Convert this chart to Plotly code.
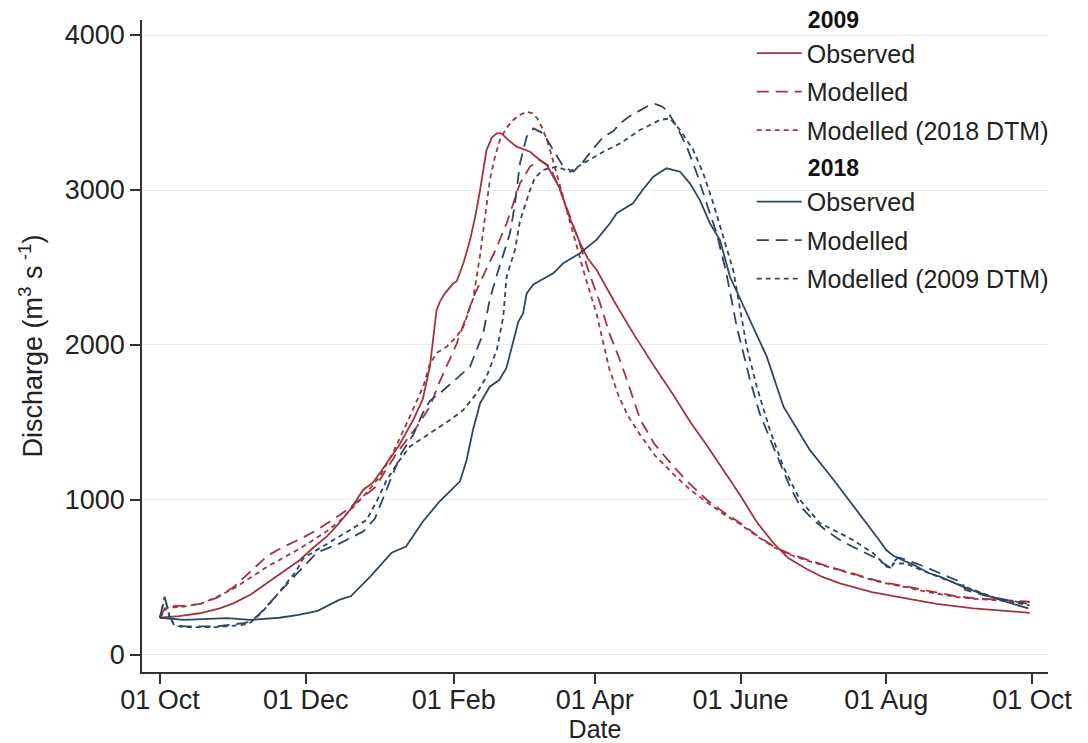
import pandas as pd
import plotly.graph_objects as go

BASE_DATE = "2017-10-01"

# ---- data: (day offset from 01 Oct, discharge m3/s) ----
obs09_day = [0, 8, 16.7, 25, 30.7, 38, 44.7, 52, 58.6, 64, 69.8, 75, 79.5, 82.3, 85, 89, 92, 100, 106, 110,
             113, 115.8, 117.2, 119.3, 122.8, 124.2, 127, 129.8, 132, 134, 136.7, 139, 141, 143, 146, 149.3,
             154.9, 159, 162, 164.6, 167.4, 171, 175.8, 179, 182.8, 189.8, 198.1, 206.5, 214.9, 222, 228.8,
             235.8, 242.8, 249.8, 256.7, 263, 270.7, 277, 284.6, 298, 310, 325, 340.5, 352, 364]
obs09_val = [240, 250, 269, 300, 333, 390, 462, 540, 613, 690, 763, 850, 935, 1000, 1065, 1110, 1172, 1350, 1516, 1650,
             1860, 2226, 2280, 2333, 2398, 2410, 2527, 2677, 2830, 3000, 3258, 3340, 3366, 3366, 3320, 3280,
             3247, 3194, 3160, 3086, 3010, 2840, 2660, 2560, 2484, 2290, 2075, 1871, 1677, 1503, 1355,
             1194, 1032, 858, 723, 625, 555, 505, 462, 405, 372, 330, 301, 285, 272]

mod09_day = [0, 2, 5, 10, 17, 24, 31, 38, 45, 52, 59, 65, 70, 75, 80, 90, 99, 107.5, 113, 117, 124, 131, 136,
             140.5, 145.1, 150.7, 154.9, 159, 163.2, 167.4, 171.6, 176, 180, 184, 188, 192.6, 196, 201, 207, 215,
             222, 229, 236, 243, 250, 257, 264, 271, 278, 285, 292, 299, 306, 312.5, 320, 326.5, 333, 340.5,
             348, 356, 364]
mod09_val = [240, 300, 315, 318, 330, 370, 440, 540, 640, 700, 750, 800, 850, 900, 957, 1080, 1300, 1473, 1602,
             1760, 2000, 2300, 2470, 2613, 2785, 3043, 3151, 3194, 3151, 3000, 2830, 2640, 2450, 2280, 2080,
             1900, 1750, 1520, 1360, 1215, 1100, 1000, 920, 850, 770, 699, 650, 613, 580, 548, 515, 484, 460,
             441, 415, 398, 380, 366, 360, 352, 344]

mod09dtm_day = [0, 3, 10, 17, 24, 31, 38, 45, 52, 59, 65, 70, 75, 80, 85, 92, 98, 103.3, 110.2, 113, 116, 120,
                124, 127, 131.1, 134, 136, 138.1, 140, 142.3, 145, 147.9, 150, 153.5, 156, 158, 160, 162, 164,
                166, 170, 174, 178, 182.8, 188, 192, 196, 201, 207, 215, 222, 229, 236, 243, 250, 257, 264, 271,
                278, 285, 292, 299, 306, 312.5, 320, 326.5, 333, 340.5, 348, 356, 364]
mod09dtm_val = [240, 305, 312, 330, 375, 430, 500, 570, 630, 690, 750, 800, 860, 940, 1020, 1150, 1320, 1495,
                1731, 1880, 1950, 1989, 2050, 2118, 2300, 2580, 2800, 3065, 3200, 3323, 3400, 3452, 3480, 3505,
                3495, 3460, 3400, 3323, 3220, 3108, 2880, 2660, 2440, 2200, 1850, 1670, 1540, 1420, 1290, 1165,
                1065, 985, 908, 843, 765, 695, 645, 608, 575, 543, 510, 480, 455, 437, 410, 393, 375, 362, 356,
                348, 340]

obs18_day = [0, 10, 28, 38, 50, 58, 66, 75, 80, 88, 97, 103, 110, 117, 125.6, 128.4, 131, 134, 138, 142, 145,
             147, 150, 152, 153.5, 156.3, 161.9, 164.6, 168.8, 175.8, 182.8, 188.4, 191.2, 198, 202, 206.5, 212,
             217.7, 221.8, 226, 230.2, 234.4, 238.6, 247, 254, 261, 272, 282, 291.6, 297, 301, 304, 307, 312.5,
             315, 322, 326.5, 337.7, 351.6, 363.5]
obs18_val = [240, 226, 237, 226, 240, 258, 285, 355, 380, 505, 660, 699, 860, 990, 1120, 1260, 1450, 1624, 1731,
             1774, 1850, 1968, 2150, 2204, 2333, 2390, 2441, 2462, 2527, 2592, 2680, 2785, 2850, 2914, 3000, 3086,
             3140, 3118, 3043, 2935, 2785, 2677, 2440, 2161, 1925, 1602, 1323, 1129, 935, 828, 742, 677, 640, 600,
             585, 527, 505, 430, 355, 300]

mod18_day = [0, 2, 4, 6, 10, 24, 35, 38, 42, 47, 52, 57, 62, 65.6, 75.3, 85, 90, 93.5, 97, 101, 106, 110, 113,
             118, 124, 129.8, 135.3, 138, 141, 144.4, 146.5, 148.5, 150.7, 153.5, 156.3, 160.4, 164.6, 168.8, 173,
             177.2, 181, 185.6, 189.8, 192.6, 196, 200.9, 204, 207.2, 210, 212.1, 216.3, 220.5, 224.7, 228.8,
             233, 237, 241.4, 247, 251, 256.7, 263.7, 268, 273.5, 279, 284.6, 291, 298.6, 303, 305.6, 307, 309,
             312.5, 320, 326.5, 332, 336, 337, 345, 354.4, 363.5]
mod18_val = [240, 376, 250, 195, 185, 185, 205, 215, 270, 355, 440, 520, 600, 660, 720, 796, 880, 1021, 1150,
             1300, 1420, 1560, 1640, 1700, 1780, 1860, 2075, 2290, 2450, 2613, 2720, 2900, 3172, 3344, 3398, 3366,
             3258, 3151, 3118, 3183, 3260, 3344, 3380, 3430, 3470, 3516, 3540, 3555, 3540, 3516, 3409, 3280, 3108,
             2914, 2721, 2470, 2120, 1774, 1560, 1344, 1086, 960, 871, 800, 742, 690, 634, 590, 565, 600, 628,
             613, 570, 527, 490, 465, 420, 385, 355, 330]

mod18dtm_day = [0, 2, 4, 6, 10, 24, 35, 38, 42, 47, 52, 57, 60, 67, 74, 80, 86.5, 91, 94.9, 100, 104.6, 113,
                121.4, 127, 132.6, 136.7, 141, 143.7, 145.1, 148.6, 150.7, 154.9, 157, 160.4, 166, 171.6, 177.2,
                185.6, 192.6, 200.9, 209.3, 213.5, 217.7, 223.2, 227.4, 231.6, 235.8, 240, 245.6, 249.8, 255.3,
                260.9, 267.9, 276.3, 287.4, 290, 298.6, 304.2, 306, 307, 312, 322, 337, 351, 364]
mod18dtm_val = [240, 370, 250, 190, 180, 180, 195, 210, 265, 350, 445, 540, 624, 690, 753, 810, 871, 1000, 1129,
                1250, 1344, 1430, 1516, 1581, 1688, 1796, 1968, 2183, 2441, 2613, 2800, 3000, 3080, 3129, 3151,
                3118, 3172, 3247, 3301, 3387, 3452, 3462, 3387, 3258, 3108, 2914, 2699, 2480, 1989, 1731, 1452,
                1215, 1000, 850, 763, 742, 656, 570, 560, 590, 590, 527, 440, 360, 320]

tick_days = [0, 61, 123, 182, 243, 304, 365]
tick_text = ["01 Oct", "01 Dec", "01 Feb", "01 Apr", "01 June", "01 Aug", "01 Oct"]

RED = "#a3343f"
BLUE = "#2f4660"
FONT = "Liberation Sans, Arial, sans-serif"
INDENT = "\u00a0" * 8


def to_dates(days):
    return pd.Timestamp(BASE_DATE) + pd.to_timedelta(days, unit="D")


series = [
    (obs09_day, obs09_val, RED, "solid", "Observed", "g1", "2009"),
    (mod09_day, mod09_val, RED, "12px,7px", "Modelled", "g2", None),
    (mod09dtm_day, mod09dtm_val, RED, "5px,4px", "Modelled (2018 DTM)", "g3", None),
    (obs18_day, obs18_val, BLUE, "solid", "Observed", "g4", "2018"),
    (mod18_day, mod18_val, BLUE, "12px,7px", "Modelled", "g5", None),
    (mod18dtm_day, mod18dtm_val, BLUE, "5px,4px", "Modelled (2009 DTM)", "g6", None),
]

fig = go.Figure()
for days, vals, col, dash, name, grp, gtitle in series:
    kw = {}
    if gtitle:
        kw["legendgrouptitle"] = dict(text="<b>" + INDENT + gtitle + "</b>",
                                      font=dict(size=23, color="#111", family=FONT))
    fig.add_trace(go.Scatter(
        x=to_dates(days), y=vals, mode="lines", name=name, legendgroup=grp,
        line=dict(color=col, width=1.8, dash=dash), **kw))

x0 = pd.Timestamp(BASE_DATE) + pd.to_timedelta(-7.5, unit="D")
x1 = pd.Timestamp(BASE_DATE) + pd.to_timedelta(371.7, unit="D")

# page body has an 8px margin, so the figure is sized to fit inside the window
fig.update_layout(
    width=1080, height=735,
    margin=dict(l=134, r=40, t=12, b=71, autoexpand=False),
    paper_bgcolor="white", plot_bgcolor="white",
    font=dict(family=FONT, size=25, color="#222"),
    showlegend=True,
    legend=dict(x=0.673, y=1.0345, xanchor="left", yanchor="top",
                bgcolor="rgba(0,0,0,0)", font=dict(size=25, color="#222", family=FONT),
                grouptitlefont=dict(size=23, color="#111", family=FONT),
                itemwidth=45, tracegroupgap=3, traceorder="grouped"),
    xaxis=dict(range=[x0, x1], tickmode="array", tickvals=to_dates(tick_days), ticktext=tick_text,
               showgrid=False, zeroline=False, showline=True, linecolor="#333", linewidth=1.5,
               ticks="outside", ticklen=10, tickwidth=1.5, tickcolor="#333",
               ticklabelstandoff=-7,
               tickfont=dict(size=27, color="#222"),
               title=dict(text="Date", font=dict(size=25, color="#222"), standoff=4)),
    yaxis=dict(range=[-110, 4097], tickvals=[0, 1000, 2000, 3000, 4000],
               showgrid=True, gridcolor="#ececec", gridwidth=1, zeroline=False,
               showline=True, linecolor="#333", linewidth=1.5,
               ticks="outside", ticklen=10, tickwidth=1.5, tickcolor="#333",
               tickfont=dict(size=27, color="#222"),
               title=dict(text="Discharge (m<sup>3</sup> s<sup> -1</sup>)", font=dict(size=27, color="#222"),
                          standoff=14)),
)

fig.write_html("out.html")
